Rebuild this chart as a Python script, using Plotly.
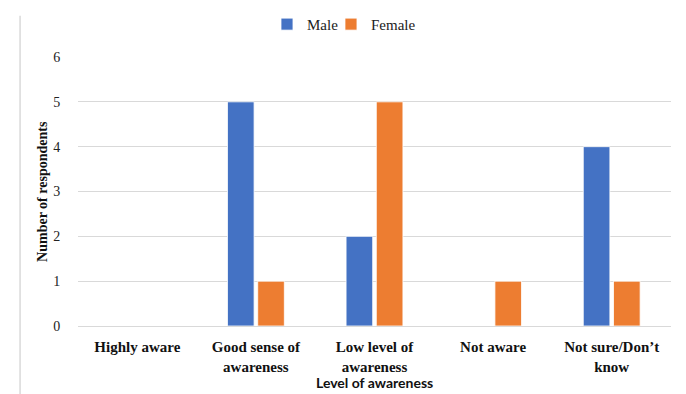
import plotly.graph_objects as go

# Survey responses by awareness level
categories = ["Highly aware", "Good sense of<br>awareness", "Low level of<br>awareness",
              "Not aware", "Not sure/Don’t<br>know"]
male = [0, 5, 2, 0, 4]
female = [0, 1, 5, 1, 1]
y_ticks = [0, 1, 2, 3, 4, 5, 6]

BLUE = "#4472C4"
ORANGE = "#ED7D31"
SERIF = "Liberation Serif, Times New Roman, serif"

fig = go.Figure()
fig.add_trace(go.Bar(name="Male", x=categories, y=male, marker_color=BLUE,
                     marker_line=dict(color="white", width=0.8), legend="legend"))
fig.add_trace(go.Bar(name="Female", x=categories, y=female, marker_color=ORANGE,
                     marker_line=dict(color="white", width=0.8), legend="legend2"))

legend_style = dict(orientation="h", xanchor="left", y=0.98, yanchor="top",
                    yref="container", font=dict(family=SERIF, size=15, color="#222222"),
                    itemwidth=30, bgcolor="rgba(0,0,0,0)")

fig.update_layout(
    width=686, height=394,
    margin=dict(l=78, r=15, t=57, b=68, autoexpand=False),
    paper_bgcolor="white", plot_bgcolor="white",
    barmode="group", bargap=0.49, bargroupgap=0.12,
    font=dict(family=SERIF, size=14, color="#222222"),
    legend=dict(x=0.3187, **legend_style),
    legend2=dict(x=0.4266, **legend_style),
    showlegend=True,
)

fig.update_yaxes(range=[0, 6], tickvals=y_ticks, showgrid=True, gridcolor="#d9d9d9",
                 gridwidth=1.2, zeroline=True, zerolinecolor="#d9d9d9", zerolinewidth=1.2,
                 showline=False, ticks="outside", ticklen=14, tickcolor="rgba(0,0,0,0)",
                 tickfont=dict(family=SERIF, size=14, color="#222222"))
fig.update_xaxes(showline=False, ticks="outside", ticklen=7, tickcolor="rgba(0,0,0,0)",
                 tickfont=dict(family=SERIF, size=15, color="#111111", weight="bold"))

# Axis titles
fig.add_annotation(text="<b>Number of respondents</b>", xref="paper", yref="paper",
                   x=-0.06, y=0.5, xanchor="center", yanchor="middle", textangle=-90,
                   showarrow=False, font=dict(family=SERIF, size=14, color="#111111"))
fig.add_annotation(text="<b>Level of awareness</b>", xref="paper", yref="paper",
                   x=0.5, y=-0.21, xanchor="center", yanchor="middle",
                   showarrow=False, font=dict(family="Lato, Liberation Sans, sans-serif",
                                              size=14, color="#111111"))

# Light frame line on the left edge
fig.add_shape(type="line", xref="paper", yref="paper", x0=-0.0977, x1=-0.0977,
              y0=-0.3, y1=1.153, line=dict(color="#d9d9d9", width=1.5))

fig.write_html("out.html")
